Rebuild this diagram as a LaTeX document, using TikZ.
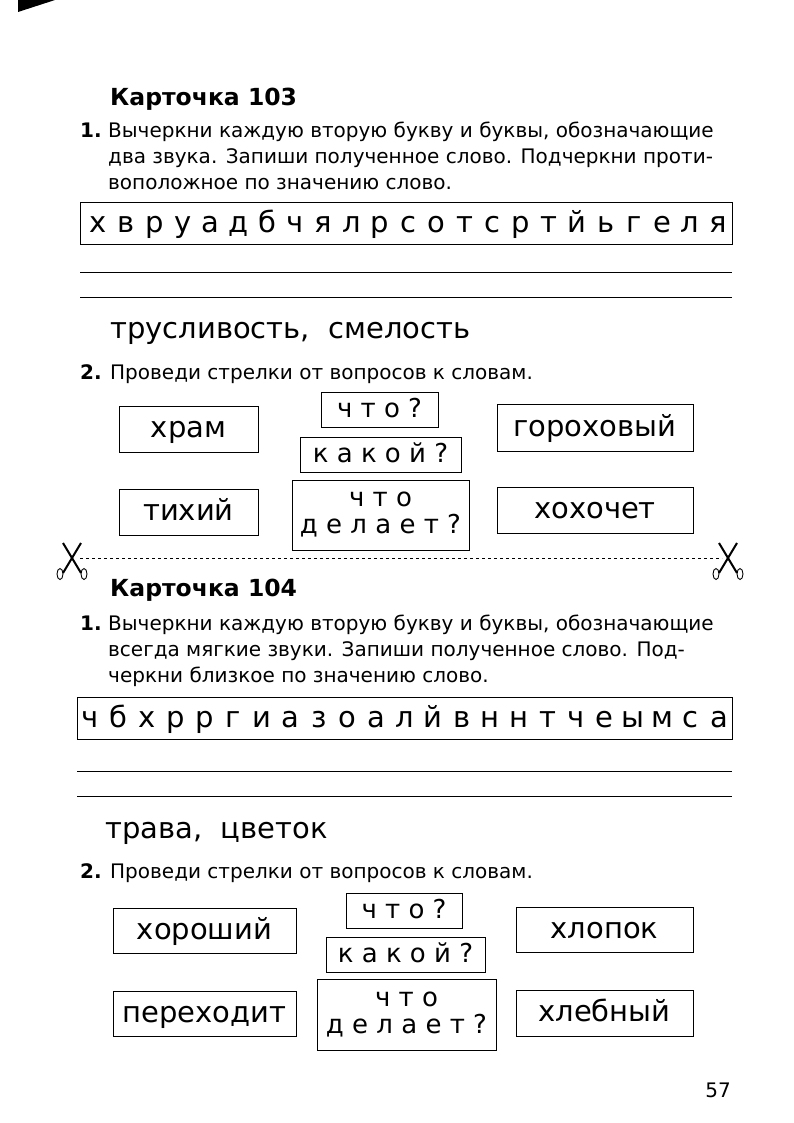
\documentclass[tikz,border=0pt]{standalone}
\usepackage{fontspec}
\setmainfont{DejaVu Sans}
\begin{document}
\begin{tikzpicture}[x=1pt,y=-1pt,
  bx/.style={draw,line width=1pt,inner sep=0pt},
  body/.style={anchor=base west,font=\fontsize{20}{26}\selectfont,inner sep=0pt},
  head/.style={anchor=base west,font=\fontsize{23.5}{26}\selectfont\bfseries,inner sep=0pt},
  big/.style={font=\fontsize{29}{30}\selectfont,text height=17pt,text depth=0pt},
  qq/.style={font=\fontsize{26}{30}\selectfont,text height=16pt,text depth=0pt},
  two/.style={font=\fontsize{26}{30}\selectfont,align=center},
  let/.style={font=\fontsize{29}{30}\selectfont,anchor=base,inner sep=0pt},
  ans/.style={anchor=base west,font=\fontsize{29}{30}\selectfont,inner sep=0pt},
  rl/.style={line width=0.6pt}]
\useasboundingbox (0,0) rectangle (793,1123);
\fill (18,0)--(55,0)--(18,12)--cycle;
% Card 103
\node[head] (h1) at (110,106) {Карточка 103};
\node[body] (n1) at (80,138) {\textbf{1.}};
\node[body] (t1a) at (108,138) {Вычеркни каждую вторую букву и буквы, обозначающие};
\node[body] (t1b) at (108,164) {два звука. Запиши полученное слово. Подчеркни проти-};
\node[body] (t1c) at (108,190) {воположное по значению слово.};
\node[bx,minimum width=652pt,minimum height=41pt] (s1) at (406,223.5) {};
\foreach \l [count=\i] in {х,в,р,у,а,д,б,ч,я,л,р,с,о,т,с,р,т,й,ь,г,е,л,я}
  \node[let] (a\i) at ({98+(\i-1)*28.2},233) {\l};
\draw[rl] (80,272) -- (732,272);
\draw[rl] (80,297) -- (732,297);
\node[ans] (w1) at (110,338) {трусливость,\ \ смелость};
\node[body] (q1) at (80,379) {\textbf{2.} Проведи стрелки от вопросов к словам.};
\node[bx,big,minimum width=139pt,minimum height=46pt] (b1) at (188.5,429) {храм};
\node[bx,qq,minimum width=117pt,minimum height=35pt] (b2) at (379.5,409.5) {ч т о ?};
\node[bx,qq,minimum width=161pt,minimum height=35pt] (b3) at (380.5,454.5) {к а к о й ?};
\node[bx,big,minimum width=196pt,minimum height=47pt] (b4) at (595,427.5) {гороховый};
\node[bx,big,minimum width=139pt,minimum height=46pt] (b5) at (188.5,512) {тихий};
\node[bx,two,minimum width=177pt,minimum height=70pt] (b6) at (380.5,515) {ч т о\\[-3pt]д е л а е т ?};
\node[bx,big,minimum width=196pt,minimum height=46pt] (b7) at (595,510) {хохочет};
% cut line
\coordinate (c1) at (80,558); \coordinate (c2) at (722,558);
\draw[dashed,line width=0.7pt] (c1) -- (c2);
\foreach \cx in {72,728}{
  \draw[line width=2pt] (\cx-9,543) -- (\cx+9,573);
  \draw[line width=2pt] (\cx+9,543) -- (\cx-9,573);
  \draw[line width=0.9pt] (\cx-12,574) ellipse (3pt and 5.5pt);
  \draw[line width=0.9pt] (\cx+12,574) ellipse (3pt and 5.5pt);
}
% Card 104
\node[head] (h2) at (110,596) {Карточка 104};
\node[body] (n2) at (80,630) {\textbf{1.}};
\node[body] (t2a) at (108,630) {Вычеркни каждую вторую букву и буквы, обозначающие};
\node[body] (t2b) at (108,656) {всегда мягкие звуки. Запиши полученное слово. Под-};
\node[body] (t2c) at (108,682) {черкни близкое по значению слово.};
\node[bx,minimum width=655pt,minimum height=42pt] (s2) at (404.5,718) {};
\foreach \l [count=\i] in {ч,б,х,р,р,г,и,а,з,о,а,л,й,в,н,н,т,ч,е,ы,м,с,а}
  \node[let] (c\i) at ({90+(\i-1)*28.6},727) {\l};
\draw[rl] (77,771) -- (732,771);
\draw[rl] (77,796) -- (732,796);
\node[ans] (w2) at (105,838) {трава,\ \ цветок};
\node[body] (q2) at (80,878) {\textbf{2.} Проведи стрелки от вопросов к словам.};
\node[bx,big,minimum width=183pt,minimum height=45pt] (d1) at (204.5,930.5) {хороший};
\node[bx,qq,minimum width=116pt,minimum height=35pt] (d2) at (404,910.5) {ч т о ?};
\node[bx,qq,minimum width=159pt,minimum height=35pt] (d3) at (405.5,954.5) {к а к о й ?};
\node[bx,big,minimum width=177pt,minimum height=45pt] (d4) at (604.5,929.5) {хлопок};
\node[bx,big,minimum width=183pt,minimum height=45pt] (d5) at (204.5,1013.5) {переходит};
\node[bx,two,minimum width=179pt,minimum height=71pt] (d6) at (406.5,1014.5) {ч т о\\[-3pt]д е л а е т ?};
\node[bx,big,minimum width=177pt,minimum height=46pt] (d7) at (604.5,1013) {хлебный};
\node[font=\fontsize{20}{22}\selectfont] (pg) at (718,1090) {57};
\end{tikzpicture}
\end{document}
